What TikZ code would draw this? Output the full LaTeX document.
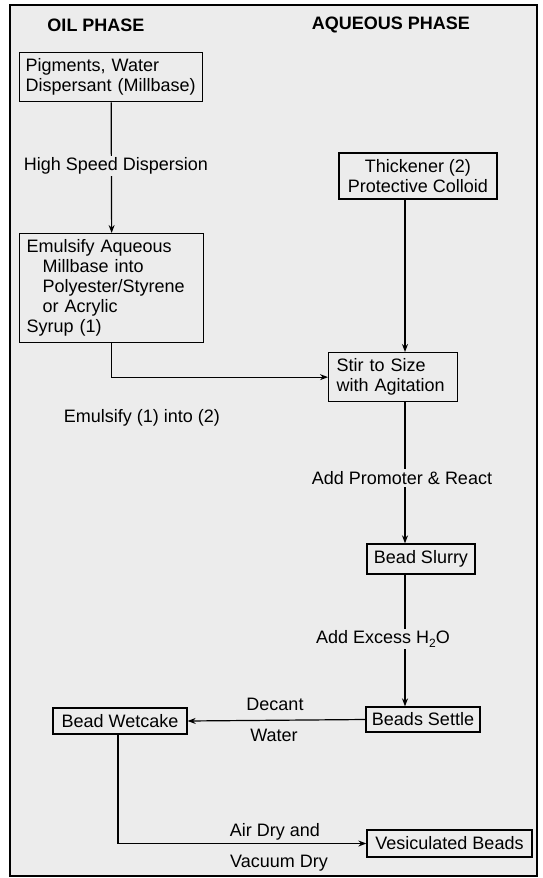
\documentclass[tikz,border=0pt]{standalone}
\usepackage{fontspec}
\setmainfont{Liberation Sans}
\usetikzlibrary{arrows.meta,calc}
\definecolor{bg}{RGB}{236,236,236}
\tikzset{
  box/.style={draw, line width=1.3pt, inner sep=0pt, font=\fontsize{18}{20}\selectfont},
  lbox/.style={box, align=left, anchor=north west},
  cbox/.style={box, align=center},
  lbl/.style={font=\fontsize{18}{20}\selectfont, inner sep=1pt},
  onln/.style={lbl, fill=bg, inner sep=2pt},
  head/.style={font=\fontsize{18}{20}\selectfont\bfseries},
  conn/.style={line width=1.2pt, -{Stealth[length=8pt,width=6pt]}},
  plain/.style={line width=1.2pt}
}
\begin{document}
\begin{tikzpicture}[x=1pt,y=-1pt]
\useasboundingbox (0,0) rectangle (542,878);
\fill[white] (0,0) rectangle (542,878);
\fill[bg] (10,5) rectangle (537,876);
\draw[line width=2pt] (10,5) rectangle (537,876);

\node[head] (oil) at (96,25) {OIL PHASE};
\node[head] (aq) at (391,25) {AQUEOUS PHASE};

\node[lbox, text width=171pt, inner xsep=6pt, minimum height=49pt] (pig) at (19,52)
  {Pigments, Water\\Dispersant (Millbase)};
\node[lbox, text width=170pt, inner xsep=7pt, minimum height=109pt] (emu) at (19,233)
  {Emulsify Aqueous\\\hspace*{16pt}Millbase into\\\hspace*{16pt}Polyester/Styrene\\\hspace*{16pt}or Acrylic\\Syrup (1)};
\node[cbox, minimum width=158pt, minimum height=46pt] (thick) at (418,176)
  {Thickener (2)\\Protective Colloid};
\node[lbox, text width=113pt, inner xsep=8pt, minimum height=49pt] (stir) at (328,352)
  {Stir to Size\\with Agitation};
\node[cbox, minimum width=108pt, minimum height=30pt] (slurry) at (421,559) {Bead Slurry};
\node[cbox, minimum width=114pt, minimum height=25pt] (settle) at (423,719.5) {Beads Settle};
\node[cbox, minimum width=134pt, minimum height=26pt] (wet) at (120,721) {Bead Wetcake};
\node[cbox, minimum width=165pt, minimum height=27pt] (ves) at (449.5,843.5) {Vesiculated Beads};

\coordinate (sp) at (405,0);
\coordinate (wx) at (118,0);

% oil phase chain
\draw[conn] (pig.south) -- (emu.north);
\node[onln] (hsd) at (116,166) {High Speed Dispersion};

% aqueous chain
\draw[conn] (thick.south -| sp) -- (stir.north -| sp);
\draw[conn] (emu.south) |- (stir.west);
\node[lbl] (e12) at (142,418) {Emulsify (1) into (2)};

\draw[conn] (stir.south -| sp) -- (slurry.north -| sp);
\node[onln] (apr) at (402,478) {Add Promoter \& React};

\draw[conn] (slurry.south -| sp) -- (settle.north -| sp);
\node[onln] (aeh) at (383,639) {Add Excess H\raisebox{-0.35ex}{\fontsize{12}{12}\selectfont 2}O};

\draw[conn] (settle.west) -- (wet.east);
\node[lbl] (dec) at (275,704) {Decant};
\node[lbl] (wat) at (274,735) {Water};

\draw[conn] (wet.south -| wx) |- (ves.west);
\node[lbl] (ad) at (275,832) {Air Dry and};
\node[lbl] (vd) at (279,863) {Vacuum Dry};
\end{tikzpicture}
\end{document}
